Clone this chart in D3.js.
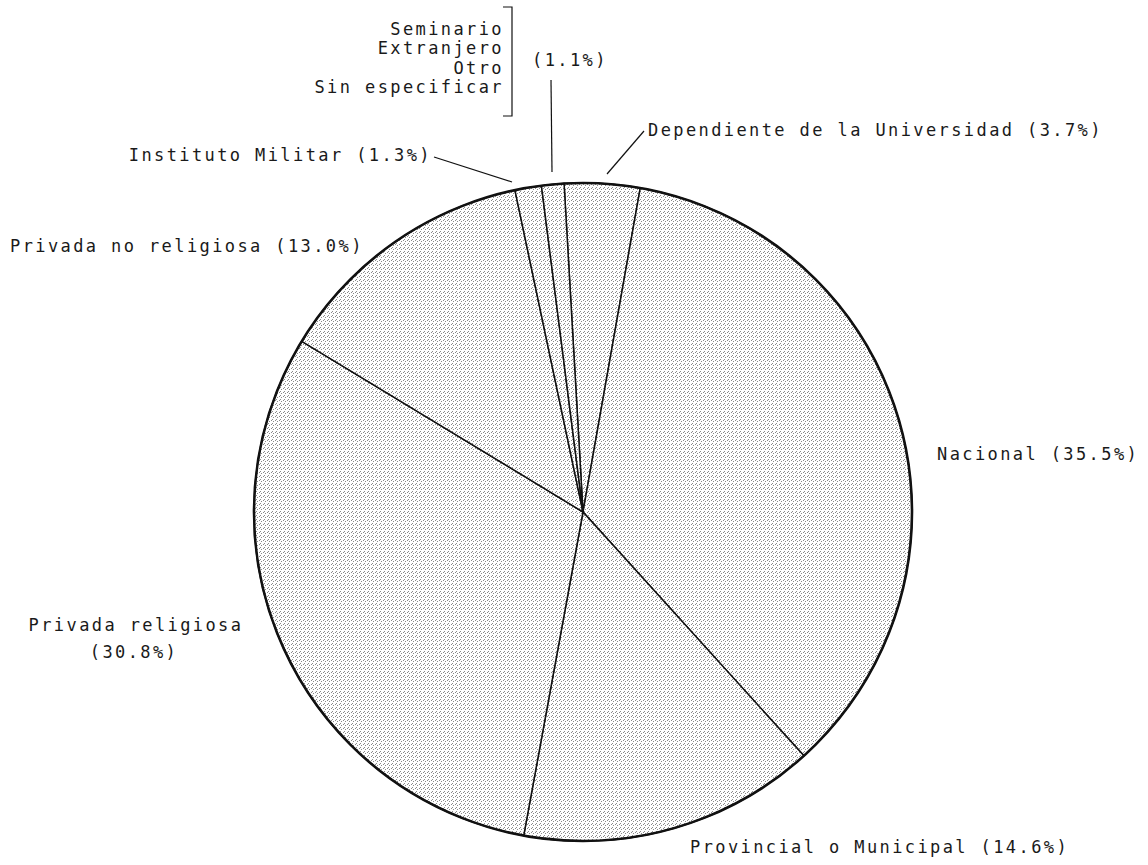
<!DOCTYPE html>
<meta charset="utf-8">
<style>
    body { margin: 0; background: #fff; }
    .lbl {
        font-family: "DejaVu Sans Mono", monospace;
        font-size: 17px;
        letter-spacing: 2.4px;
        fill: #1a1a1a;
    }
    .slice { stroke: #111; stroke-width: 1.5; }
    .rim { fill: none; stroke: #111; stroke-width: 2.6; }
    .leader { fill: none; stroke: #111; stroke-width: 1.2; }
</style>
<svg width="1148" height="865"></svg>
<script src="https://d3js.org/d3.v7.min.js"></script>
<script>
    // data, clockwise from the top
    var categories = ["Dependiente de la Universidad", "Nacional", "Provincial o Municipal",
        "Privada religiosa", "Privada no religiosa", "Instituto Militar", "Otros"];
    var values = [3.7, 35.5, 14.6, 30.8, 13.0, 1.3, 1.1];
    var otherGroup = ["Seminario", "Extranjero", "Otro", "Sin especificar"];

    var svg = d3.select("svg"),
        cx = 583, cy = 512, radius = 329;

    // stipple fill
    var defs = svg.append("defs");
    var pat = defs.append("pattern")
        .attr("id", "stipple")
        .attr("width", 4).attr("height", 4)
        .attr("patternUnits", "userSpaceOnUse");
    pat.append("rect").attr("width", 4).attr("height", 4).attr("fill", "#fff");
    [[0, 0], [2, 1], [1, 3]].forEach(function (p) {
        pat.append("rect").attr("x", p[0]).attr("y", p[1])
            .attr("width", 1).attr("height", 1).attr("fill", "#8a8a8a");
    });

    var start = -3.3 * Math.PI / 180;
    var pie = d3.pie().sort(null)
        .startAngle(start)
        .endAngle(start + 2 * Math.PI);
    var arc = d3.arc().innerRadius(0).outerRadius(radius);

    var g = svg.append("g").attr("transform", "translate(" + cx + "," + cy + ")");
    g.selectAll("path.slice")
        .data(pie(values))
        .enter().append("path")
        .attr("class", "slice")
        .attr("fill", "url(#stipple)")
        .attr("d", arc);
    g.append("circle").attr("class", "rim").attr("r", radius);

    function pct(v) { return "(" + v.toFixed(1) + "%)"; }

    // labels
    var lbl = svg.append("g");
    function text(x, y, s, anchor) {
        return lbl.append("text").attr("class", "lbl")
            .attr("x", x).attr("y", y)
            .attr("text-anchor", anchor || "start")
            .text(s);
    }

    text(648, 136, categories[0] + " " + pct(values[0]));
    text(937, 460, categories[1] + " " + pct(values[1]));
    text(690, 853, categories[2] + " " + pct(values[2]));
    text(136, 631, categories[3], "middle");
    text(134, 658, pct(values[3]), "middle");
    text(10, 252, categories[4] + " " + pct(values[4]));
    text(432, 161, categories[5] + " " + pct(values[5]), "end");

    otherGroup.forEach(function (s, i) {
        text(504, 35 + i * 19.3, s, "end");
    });
    text(532, 66, pct(values[6]));

    // bracket and leaders
    var line = d3.line();
    lbl.append("path").attr("class", "leader")
        .attr("d", line([[503, 7], [512, 7], [512, 116], [503, 116]]));
    lbl.append("path").attr("class", "leader")
        .attr("d", line([[551, 80], [552, 172]]));
    lbl.append("path").attr("class", "leader")
        .attr("d", line([[644, 131], [607, 174]]));
    lbl.append("path").attr("class", "leader")
        .attr("d", line([[434, 157], [512, 182]]));
</script>
